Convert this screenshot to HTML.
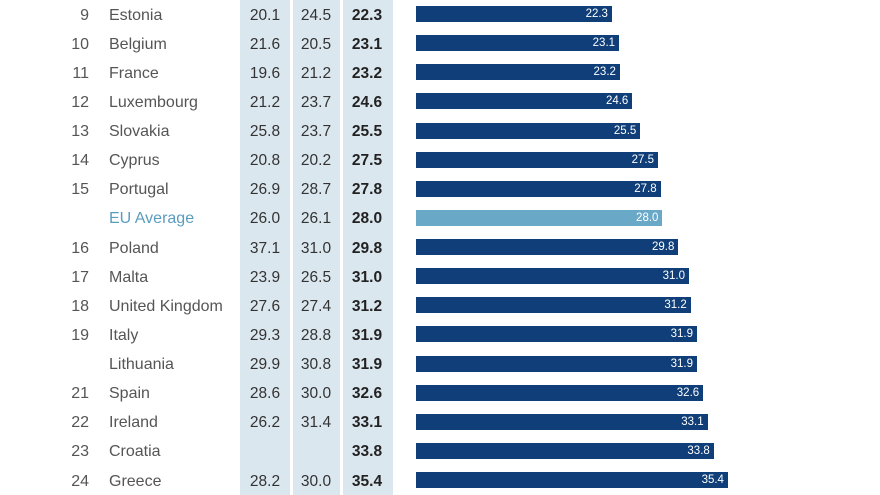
<!DOCTYPE html>
<html><head><meta charset="utf-8"><style>
body{margin:0;width:880px;height:495px;background:#fff;position:relative;overflow:hidden;font-family:"Liberation Sans Narrow","Liberation Sans",sans-serif}
.col{position:absolute;top:0;height:495px;background:#dbe7ef}
.t{position:absolute;font-size:16px;line-height:20px;color:#555;white-space:nowrap}
.r{text-align:right;width:30px}
.v{text-align:center;width:50px;color:#333;font-size:15.5px}
.b{font-weight:bold;color:#222}
.bar{position:absolute;left:416px;height:16px;background:#0f3e78;color:#fff;font-size:11.5px;line-height:16px;text-align:right;box-sizing:border-box;padding-right:4px}
</style></head><body>
<div class="col" style="left:240px;width:50px"></div>
<div class="col" style="left:293px;width:47px"></div>
<div class="col" style="left:343px;width:50px"></div>
<div id="c"></div>
<script>
var d=[["9","Estonia","20.1","24.5","22.3"],["10","Belgium","21.6","20.5","23.1"],["11","France","19.6","21.2","23.2"],["12","Luxembourg","21.2","23.7","24.6"],["13","Slovakia","25.8","23.7","25.5"],["14","Cyprus","20.8","20.2","27.5"],["15","Portugal","26.9","28.7","27.8"],["","EU Average","26.0","26.1","28.0"],["16","Poland","37.1","31.0","29.8"],["17","Malta","23.9","26.5","31.0"],["18","United Kingdom","27.6","27.4","31.2"],["19","Italy","29.3","28.8","31.9"],["","Lithuania","29.9","30.8","31.9"],["21","Spain","28.6","30.0","32.6"],["22","Ireland","26.2","31.4","33.1"],["23","Croatia","","","33.8"],["24","Greece","28.2","30.0","35.4"]];
var h="";
d.forEach(function(r,i){var y=14+i*29.125;var ty=y-8.5;var eu=r[1]=="EU Average";
h+='<div class="t r" style="left:59px;top:'+ty+'px">'+r[0]+'</div>';
h+='<div class="t" style="left:109px;top:'+ty+'px;'+(eu?'color:#5a9cc0':'')+'">'+r[1]+'</div>';
h+='<div class="t v" style="left:240px;top:'+ty+'px">'+r[2]+'</div>';
h+='<div class="t v" style="left:291px;top:'+ty+'px">'+r[3]+'</div>';
h+='<div class="t v b" style="left:342px;top:'+ty+'px">'+r[4]+'</div>';
var w=parseFloat(r[4])*8.855-1.5;
h+='<div class="bar" style="top:'+(y-8)+'px;width:'+w+'px;'+(eu?'background:#6aa8c8':'')+'">'+r[4]+'</div>';});
document.getElementById("c").innerHTML=h;
</script>
</body></html>
